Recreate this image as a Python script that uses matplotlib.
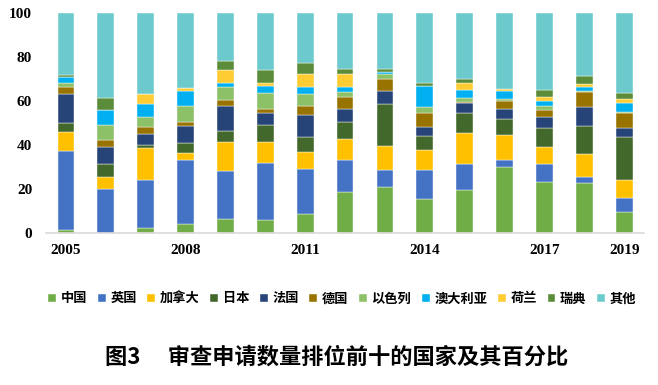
import matplotlib.pyplot as plt
import numpy as np

years = [2005, 2006, 2007, 2008, 2009, 2010, 2011, 2012, 2013, 2014, 2015, 2016, 2017, 2018, 2019]
shown_years = [2005, 2008, 2011, 2014, 2017, 2019]

countries = ['中国', '英国', '加拿大', '日本', '法国', '德国', '以色列', '澳大利亚', '荷兰', '瑞典', '其他']

china = [1.5, 0.0, 2.4, 4.1, 6.2, 5.8, 8.5, 18.8, 21.0, 15.5, 19.5, 29.8, 23.1, 22.6, 9.6]
uk = [35.6, 19.9, 21.9, 28.9, 21.9, 26.1, 20.5, 14.2, 7.6, 13.1, 12.0, 3.3, 8.4, 2.9, 6.5]
canada = [8.6, 5.6, 14.3, 3.3, 13.2, 9.4, 7.9, 9.9, 11.1, 8.9, 14.1, 11.6, 7.7, 10.4, 7.8]
japan = [4.1, 6.0, 1.5, 4.4, 4.9, 7.6, 6.6, 7.7, 19.0, 6.6, 8.8, 7.1, 8.7, 12.6, 19.7]
france = [13.4, 7.7, 5.0, 7.8, 11.6, 5.7, 10.3, 5.9, 5.9, 4.2, 4.9, 4.4, 5.0, 8.8, 4.3]
germany = [3.4, 3.2, 3.2, 2.1, 2.7, 1.9, 3.8, 5.5, 5.6, 6.1, 0.4, 3.8, 3.2, 7.0, 6.5]
israel = [1.5, 6.5, 4.4, 7.2, 5.9, 7.2, 5.6, 2.3, 2.0, 2.7, 1.9, 0.9, 1.5, 0.3, 0.6]
australia = [2.7, 7.2, 6.1, 6.6, 1.8, 3.3, 3.2, 2.1, 0.9, 9.9, 3.3, 3.5, 2.4, 2.0, 4.3]
netherlands = [0.0, 0.0, 4.4, 1.6, 6.0, 1.1, 6.1, 6.1, 0.3, 0.0, 3.3, 1.1, 2.0, 1.2, 1.5]
sweden = [1.1, 5.5, 0.0, 0.0, 4.2, 6.1, 5.0, 2.0, 1.2, 1.2, 2.0, 0.0, 2.9, 3.6, 2.9]
others = [28.1, 38.4, 36.8, 34.0, 21.6, 25.8, 22.5, 25.5, 25.4, 31.8, 29.8, 34.5, 35.1, 28.6, 36.3]

series = [china, uk, canada, japan, france, germany, israel, australia, netherlands, sweden, others]
colors = ['#70AD47', '#4472C4', '#FFC000', '#43682B', '#264478', '#997300',
          '#8CC168', '#00B0F0', '#FFCD33', '#5B8C3A', '#6CCACD']

plt.rcParams['font.family'] = ['Noto Sans CJK SC', 'DejaVu Sans']

fig = plt.figure(figsize=(6.58, 3.85), dpi=100)
ax = fig.add_axes([0.070, 0.395, 0.909, 0.571])

x = np.arange(len(years))
bottom = np.zeros(len(years))
for name, vals, c in zip(countries, series, colors):
    ax.bar(x, vals, 0.42, bottom=bottom, color=c, label=name,
           edgecolor='white', linewidth=0.3)
    bottom += np.array(vals)

ax.set_xlim(-0.5, len(years) - 0.5)
ax.set_ylim(0, 100)
ax.set_yticks([0, 20, 40, 60, 80, 100])
ax.set_xticks([years.index(y) for y in shown_years])
ax.set_xticklabels([str(y) for y in shown_years])
for lab in ax.get_xticklabels() + ax.get_yticklabels():
    lab.set_family('Liberation Serif')
    lab.set_weight('bold')
    lab.set_fontsize(11)
ax.tick_params(length=0)
ax.tick_params(axis='y', pad=10)
ax.tick_params(axis='x', pad=8)

for s in ['top', 'right', 'left']:
    ax.spines[s].set_visible(False)
ax.spines['bottom'].set_color('#D9D9D9')
ax.spines['bottom'].set_linewidth(1.2)

fig.legend(loc='center', bbox_to_anchor=(0.52, 0.225), ncol=11, frameon=False,
           prop={'family': 'Noto Sans CJK SC', 'weight': 'bold', 'size': 9.5},
           handlelength=0.6, handleheight=0.6, handletextpad=0.35, columnspacing=0.8)

fig.text(0.512, 0.072, '图3\u3000 审查申请数量排位前十的国家及其百分比', ha='center', va='center',
         fontsize=16, fontweight='heavy', family=['Noto Sans CJK SC', 'DejaVu Sans'])

fig.savefig('out.png', dpi=100)
